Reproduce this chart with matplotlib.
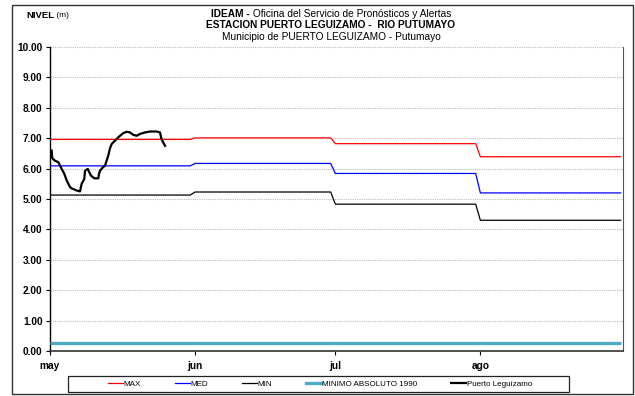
import numpy as np
import matplotlib
matplotlib.use("Agg")
import matplotlib.pyplot as plt
from matplotlib.patches import Rectangle
from matplotlib.lines import Line2D

# monthly reference levels (m)
month_labels = ["may", "jun", "jul", "ago"]
month_days = [31, 30, 31, 31]
nivel_max = [6.96, 7.01, 6.82, 6.39]
nivel_med = [6.09, 6.17, 5.84, 5.20]
nivel_min = [5.13, 5.23, 4.83, 4.30]
minimo_1990 = 0.25

# observed level, Puerto Leguizamo (days since 1 may)
obs_day = [0.36, 0.49, 1.06, 1.78, 2.14, 2.50, 3.05, 3.57, 4.28, 4.64, 5.71, 6.41,
           6.77, 7.33, 7.49, 8.06, 8.34, 8.76, 9.47, 10.33, 10.48, 10.69, 11.18,
           11.76, 12.46, 12.83, 13.19, 13.90, 14.60, 15.68, 16.40, 17.10, 17.81,
           18.54, 19.24, 20.31, 21.39, 22.81, 23.52, 23.74, 24.01, 24.59]
obs_nivel = [6.59, 6.34, 6.26, 6.21, 6.10, 5.99, 5.83, 5.61, 5.39, 5.35, 5.28, 5.25,
             5.50, 5.66, 5.93, 5.99, 5.90, 5.77, 5.68, 5.68, 5.83, 5.93, 6.02,
             6.10, 6.43, 6.67, 6.81, 6.92, 7.03, 7.17, 7.21, 7.19, 7.11,
             7.08, 7.14, 7.19, 7.22, 7.22, 7.19, 7.03, 6.92, 6.75]

W, H = 635, 396
fig = plt.figure(figsize=(W / 100, H / 100), dpi=100)
fig.patch.set_facecolor("white")

narrow = ["Liberation Sans Narrow", "Liberation Sans", "DejaVu Sans"]
plain = ["Liberation Sans", "DejaVu Sans"]

ax = fig.add_axes([50 / W, 1 - 351 / H, (622.7 - 50) / W, (351 - 47) / H])

# daily series built from the monthly values
dia = np.arange(sum(month_days))
d_max = np.repeat(nivel_max, month_days)
d_med = np.repeat(nivel_med, month_days)
d_min = np.repeat(nivel_min, month_days)

ax.plot(dia, np.full(len(dia), minimo_1990), color="#4BACC6", lw=2.4, zorder=3,
        solid_capstyle="butt")
ax.plot(dia, d_max, color="#FF0000", lw=0.9, zorder=4)
ax.plot(dia, d_med, color="#0000FF", lw=0.9, zorder=4)
ax.plot(dia, d_min, color="#000000", lw=0.9, zorder=4)
ax.plot(obs_day, obs_nivel, color="black", lw=1.6, zorder=5)

ax.set_xlim(0, 122.43)
ax.set_ylim(0, 10)
ax.set_yticks(range(0, 11))
ax.set_yticklabels([f"{v:.2f}" for v in range(0, 11)])
ax.set_xticks(np.cumsum([0] + month_days[:-1]))
ax.set_xticklabels(month_labels)

ax.grid(axis="y", linestyle=(0, (1, 1)), color="#BBBBBB", lw=0.8, zorder=1)
ax.set_axisbelow(True)
ax.spines["top"].set_visible(False)
ax.spines["right"].set_color("#555555")
ax.spines["right"].set_linewidth(0.8)
ax.spines["left"].set_linewidth(1.0)
ax.spines["bottom"].set_color("#333333")
ax.spines["bottom"].set_linewidth(1.2)

ax.tick_params(axis="both", direction="out", length=3, width=0.8)
ax.tick_params(axis="y", pad=2.4)
ax.tick_params(axis="x", pad=4)
for lab in ax.get_yticklabels() + ax.get_xticklabels():
    lab.set_fontfamily(plain)
    lab.set_fontweight("bold")
    lab.set_fontsize(7.3)

r = fig.canvas.get_renderer()


def two_part(y, a, b, size, cx=None, x0=None):
    t1 = fig.text(0, y, a, fontfamily=narrow, fontweight="bold", fontsize=size, va="center")
    t2 = fig.text(0, y, b, fontfamily=narrow, fontsize=size, va="center")
    w1 = t1.get_window_extent(r).width
    w2 = t2.get_window_extent(r).width
    if x0 is None:
        x0 = cx - (w1 + w2) / 2
    t1.set_x(x0 / W)
    t2.set_x((x0 + w1) / W)


cx = 331
two_part(1 - 14 / H, "IDEAM -", " Oficina del Servicio de Pronósticos y Alertas", 7.3, cx=cx)
fig.text(cx / W, 1 - 25.5 / H, "ESTACION PUERTO LEGUIZAMO -  RIO PUTUMAYO", fontfamily=narrow,
         fontweight="bold", fontsize=7.3, ha="center", va="center")
fig.text(cx / W, 1 - 37 / H, "Municipio de PUERTO LEGUIZAMO - Putumayo", fontfamily=narrow,
         fontsize=7.3, ha="center", va="center")

# NIVEL (m)
t1 = fig.text(26 / W, 1 - 15.5 / H, "NIVEL", fontfamily=narrow, fontweight="bold", fontsize=6.8,
              va="center")
w1 = t1.get_window_extent(r).width
fig.text((26 + w1) / W, 1 - 15.5 / H, " (m)", fontfamily=narrow, fontsize=6.0, va="center")

# legend
handles = [
    Line2D([], [], color="#FF0000", lw=0.9),
    Line2D([], [], color="#0000FF", lw=0.9),
    Line2D([], [], color="#000000", lw=0.9),
    Line2D([], [], color="#4BACC6", lw=2.4),
    Line2D([], [], color="black", lw=1.6),
]
labels = ["MAX", "MED", "MIN", "MINIMO ABSOLUTO 1990", "Puerto Leguízamo"]
leg = fig.legend(handles, labels, ncol=5, loc="center", bbox_to_anchor=(320 / W, 1 - 384 / H),
                 frameon=False, handlelength=1.85, handletextpad=0.1, columnspacing=4.2,
                 prop={"family": narrow, "size": 5.8})

fig.patches.append(Rectangle((67.7 / W, 1 - 392 / H), (569 - 67.7) / W, (392 - 375.7) / H,
                             transform=fig.transFigure, fill=False, ec="#222222", lw=0.9))
fig.patches.append(Rectangle((11.7 / W, 1 - 394 / H), (633 - 11.7) / W, (394 - 5) / H,
                             transform=fig.transFigure, fill=False, ec="#333333", lw=1.0))

fig.savefig("out.png", dpi=100)
